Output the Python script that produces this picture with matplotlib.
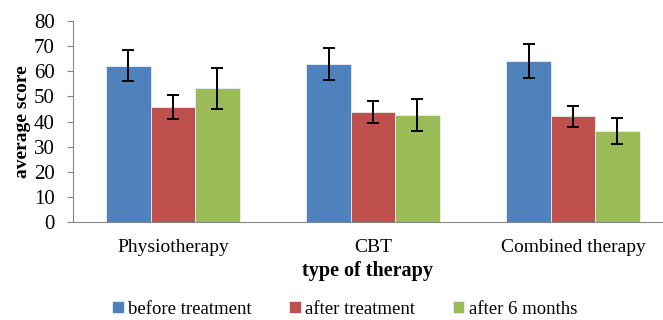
import numpy as np
import matplotlib
matplotlib.use("Agg")
import matplotlib.pyplot as plt

categories = ["Physiotherapy", "CBT", "Combined therapy"]
series = ["before treatment", "after treatment", "after 6 months"]
before = [62.2, 63.0, 64.1]
before_err = [6.2, 6.4, 6.6]
after = [45.9, 43.8, 42.1]
after_err = [4.7, 4.5, 4.3]
months6 = [53.3, 42.6, 36.3]
months6_err = [8.1, 6.4, 5.3]
yticks = [0, 10, 20, 30, 40, 50, 60, 70, 80]

colors = ["#4F81BD", "#C0504D", "#9BBB59"]

plt.rcParams['font.family'] = ['Liberation Serif', 'DejaVu Serif']

fig = plt.figure(figsize=(6.63, 3.2), dpi=100)
ax = fig.add_axes([0.110, 0.306, 0.89, 0.628])

x = np.arange(len(categories))
w = 1 / 4.5
vals = [before, after, months6]
errs = [before_err, after_err, months6_err]
for i in range(3):
    ax.bar(x + (i - 1) * w, vals[i], w, color=colors[i], edgecolor='#e8eef5',
           linewidth=0.6, label=series[i], zorder=2)
    ax.errorbar(x + (i - 1) * w, vals[i], yerr=errs[i], fmt='none',
                ecolor='black', elinewidth=1.4, capsize=4.5, capthick=1.4, zorder=3)

ax.set_xlim(-0.5, 2.45)
ax.set_ylim(0, 80)
ax.set_yticks(yticks)
ax.set_xticks(x)
ax.set_xticklabels(categories, fontsize=14)
ax.tick_params(axis='x', length=0, pad=12)
ax.tick_params(axis='y', labelsize=15, length=4, color='#868686', pad=9)
for s in ['top', 'right']:
    ax.spines[s].set_visible(False)
for s in ['left', 'bottom']:
    ax.spines[s].set_color('#868686')
ax.set_ylabel('average score', fontsize=14, fontweight='bold', labelpad=2)
ax.set_xlabel('type of therapy', fontsize=14.5, fontweight='bold', labelpad=4)

ax.legend(loc='center', bbox_to_anchor=(0.52, 0.033),
          bbox_transform=fig.transFigure, ncol=3, frameon=False, fontsize=13.5,
          handlelength=0.6, handleheight=0.6, handletextpad=0.25, columnspacing=2.0)

fig.savefig('out.png', dpi=100)
